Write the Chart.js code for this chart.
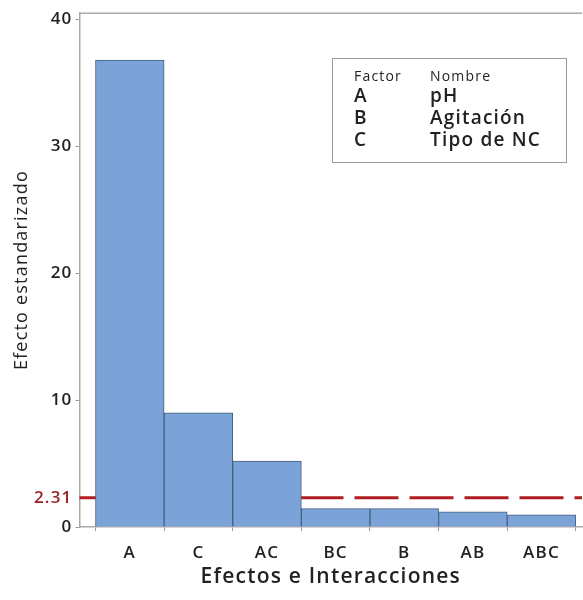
<!DOCTYPE html>
<html>
<head>
<meta charset="utf-8">
<script src="https://cdn.jsdelivr.net/npm/chart.js@4"></script>
<style>
  body { margin: 0; background: #fff; }
</style>
</head>
<body>
<canvas id="chart" width="583" height="600"></canvas>
<script>
const categories = ["A", "C", "AC", "BC", "B", "AB", "ABC"];
const effects = [36.8, 9.0, 5.2, 1.45, 1.45, 1.2, 0.95];
const yTicks = [0, 10, 20, 30, 40];
const threshold = 2.31;
const legendRows = [
  ["A", "pH"],
  ["B", "Agitación"],
  ["C", "Tipo de NC"],
];

const red = "#b01e23";
const font = "'Open Sans', sans-serif";

// the original text is a bit wider than Open Sans, add some tracking
const spacing = {
  id: "spacing",
  beforeLayout(chart) { chart.ctx.letterSpacing = "1.2px"; },
  beforeDraw(chart) { chart.ctx.letterSpacing = "1.2px"; },
};

// reference line + top frame, drawn behind the bars
const refLine = {
  id: "refLine",
  beforeDatasetsDraw(chart) {
    const { ctx, chartArea, scales } = chart;
    const y = scales.y.getPixelForValue(threshold);
    ctx.save();
    ctx.strokeStyle = red;
    ctx.lineWidth = 3;
    ctx.setLineDash([44, 11]);
    ctx.beginPath();
    ctx.moveTo(chartArea.left, y);
    ctx.lineTo(chartArea.right, y);
    ctx.stroke();
    ctx.setLineDash([]);
    ctx.strokeStyle = "#aaa";
    ctx.lineWidth = 1.5;
    ctx.beginPath();
    ctx.moveTo(chartArea.left, chartArea.top);
    ctx.lineTo(chartArea.right, chartArea.top);
    ctx.stroke();
    ctx.restore();
  },
};

// factor table in the top right
const factorBox = {
  id: "factorBox",
  afterDraw(chart) {
    const { ctx } = chart;
    ctx.save();
    ctx.strokeStyle = "#999";
    ctx.lineWidth = 1;
    ctx.strokeRect(332.5, 58.5, 234, 104);
    ctx.fillStyle = "#222";
    ctx.textBaseline = "middle";
    ctx.font = "14px " + font;
    ctx.fillText("Factor", 354, 77);
    ctx.fillText("Nombre", 430, 77);
    ctx.font = "600 19px " + font;
    legendRows.forEach((row, i) => {
      ctx.fillText(row[0], 354, 97 + i * 22);
      ctx.fillText(row[1], 430, 97 + i * 22);
    });
    ctx.restore();
  },
};

new Chart("chart", {
  type: "bar",
  data: {
    datasets: [
      {
        data: effects.map((v, i) => ({ x: i + 0.5, y: v })),
        backgroundColor: "#7ba3d8",
        borderColor: "#44607f",
        borderWidth: 1,
        barPercentage: 1,
        categoryPercentage: 1,
      },
    ],
  },
  options: {
    responsive: false,
    animation: false,
    layout: { padding: { top: 9, right: 1, left: 0, bottom: 0 } },
    plugins: { legend: { display: false }, tooltip: { enabled: false } },
    scales: {
      x: {
        type: "linear",
        offset: false,
        min: -0.233,
        max: 7.09,
        afterBuildTicks(scale) {
          scale.ticks = categories.map((_, i) => ({ value: i + 0.5 }));
        },
        afterFit(scale) {
          scale.height = 73;
        },
        grid: { drawOnChartArea: false, tickLength: 4, color: "#999" },
        border: { color: "#aaa", width: 1.5 },
        ticks: {
          padding: 12,
          color: "#222",
          font: { family: font, size: 17, weight: "600" },
          callback: (v) => categories[Math.round(v - 0.5)],
        },
        title: {
          display: true,
          text: "Efectos e Interacciones",
          color: "#222",
          font: { family: font, size: 21, weight: "600" },
          padding: { top: 0, bottom: 10 },
        },
      },
      y: {
        min: 0,
        max: 40.5,
        afterBuildTicks(scale) {
          scale.ticks = [yTicks[0], threshold, ...yTicks.slice(1)].map((v) => ({ value: v }));
        },
        afterFit(scale) {
          scale.width = 79.5;
        },
        grid: {
          drawOnChartArea: false,
          tickLength: 4,
          tickColor: (c) => (c.tick && c.tick.value === threshold ? "rgba(0,0,0,0)" : "#999"),
        },
        border: { color: "#aaa", width: 1.5 },
        ticks: {
          padding: 3,
          color: (c) => (c.tick && c.tick.value === threshold ? "#9b2226" : "#222"),
          font: { family: font, size: 17, weight: "600" },
          callback: (v) => String(v),
        },
        title: {
          display: true,
          text: "Efecto estandarizado",
          color: "#222",
          font: { family: font, size: 18 },
          padding: { top: 11, bottom: 0 },
        },
      },
    },
  },
  plugins: [spacing, refLine, factorBox],
});
</script>
</body>
</html>
